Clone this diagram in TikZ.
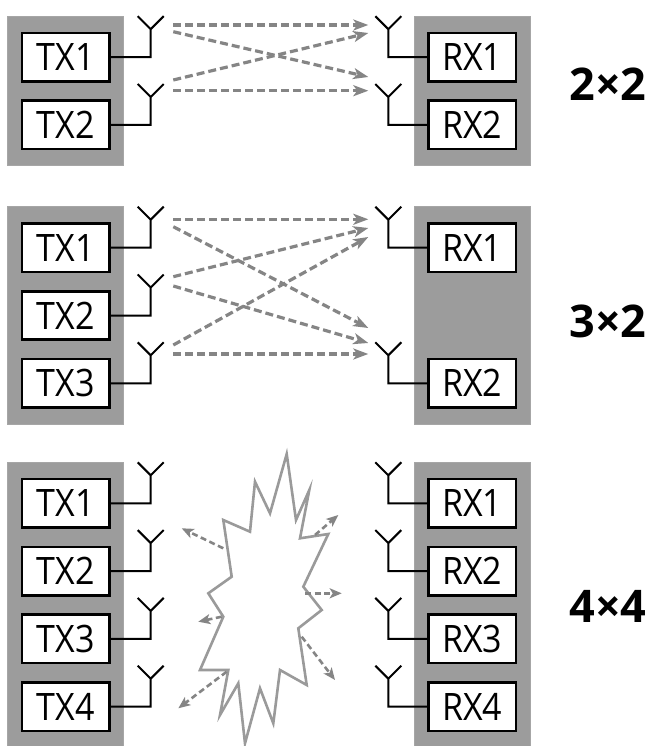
\documentclass[tikz,border=0pt]{standalone}
\usepackage{fontspec}
\newfontfamily\boxfont{Open Sans}[FakeStretch=0.9]
\newfontfamily\labelfont{Open Sans}
\usetikzlibrary{arrows.meta,positioning,fit,calc}
\pgfdeclarelayer{background}
\pgfsetlayers{background,main}
\definecolor{bodygray}{HTML}{9C9C9C}
\definecolor{raygray}{HTML}{858585}
\definecolor{burstgray}{HTML}{9A9A9A}

\begin{document}
\begin{tikzpicture}[x=1pt,y=1pt,node distance=67.8pt,on grid,
  radio/.style={draw,line width=2.6pt,fill=white,minimum width=87.4pt,minimum height=48.4pt,
    inner sep=0pt,font=\boxfont\fontsize{37.8pt}{40pt}\selectfont},
  body/.style={draw=gray!70,line width=1pt,fill=bodygray,inner xsep=13pt,inner ysep=15.5pt},
  wire/.style={line width=2pt},
  ray/.style={draw=raygray,line width=3.2pt,dash pattern=on 8pt off 4pt,
    -{Stealth[length=15pt,width=11pt,inset=4pt]}},
  spark/.style={draw=raygray,line width=2.6pt,dash pattern=on 6pt off 3.5pt,
    -{Stealth[length=12pt,width=10pt,inset=3pt]}},
  burst/.style={draw=burstgray,line width=2.6pt,fill=white,line join=miter},
  lbl/.style={font=\labelfont\bfseries\fontsize{45pt}{48pt}\selectfont}]
  \useasboundingbox (0,0) rectangle (653,-746);

  % 2x2
  \node[radio] (A-tx1) at (65.7,-57.2) {TX1};
  \node[radio] (A-tx2) [below=of A-tx1] {TX2};
  \node[radio] (A-rx1) at (472.3,-57.2) {RX1};
  \node[radio] (A-rx2) [below=of A-rx1] {RX2};
  \node[lbl] (A-lbl) at (608,-84) {2×2};

  % 3x2
  \node[radio] (B-tx1) at (65.7,-247.7) {TX1};
  \node[radio] (B-tx2) [below=of B-tx1] {TX2};
  \node[radio] (B-tx3) [below=of B-tx2] {TX3};
  \node[radio] (B-rx1) at (472.3,-247.7) {RX1};
  \node[radio] (B-rx2) [below=135.6pt of B-rx1] {RX2};
  \node[lbl] (B-lbl) at (608,-321.7) {3×2};

  % 4x4
  \node[radio] (C-tx1) at (65.7,-503.3) {TX1};
  \node[radio] (C-tx2) [below=of C-tx1] {TX2};
  \node[radio] (C-tx3) [below=of C-tx2] {TX3};
  \node[radio] (C-tx4) [below=of C-tx3] {TX4};
  \node[radio] (C-rx1) at (472.3,-503.3) {RX1};
  \node[radio] (C-rx2) [below=of C-rx1] {RX2};
  \node[radio] (C-rx3) [below=of C-rx2] {RX3};
  \node[radio] (C-rx4) [below=of C-rx3] {RX4};
  \node[lbl] (C-lbl) at (608,-606) {4×4};

  \begin{pgfonlayer}{background}
    \node[body,fit=(A-tx1)(A-tx2)] (A-tx) {};
    \node[body,fit=(A-rx1)(A-rx2)] (A-rx) {};
    \node[body,fit=(B-tx1)(B-tx3)] (B-tx) {};
    \node[body,fit=(B-rx1)(B-rx2)] (B-rx) {};
    \node[body,fit=(C-tx1)(C-tx4)] (C-tx) {};
    \node[body,fit=(C-rx1)(C-rx4)] (C-rx) {};
  \end{pgfonlayer}

  % antennas
  \foreach \s/\n in {A/2,B/3,C/4}
    \foreach \i in {1,...,\n}{
      \coordinate (\s-ta\i) at ($(\s-tx\i)+(85,28)$);
      \draw[wire] (\s-tx\i.east) -| (\s-ta\i) -- +(-13,13) (\s-ta\i) -- +(13,13);
    }
  \foreach \s/\i in {A/1,A/2,B/1,B/2,C/1,C/2,C/3,C/4}{
    \coordinate (\s-ra\i) at ($(\s-rx\i)+(-84,28)$);
    \draw[wire] (\s-rx\i.west) -| (\s-ra\i) -- +(-13,13) (\s-ra\i) -- +(13,13);
  }

  % radio paths
  \foreach \a/\ya/\b/\yb in {1/4.2/1/4.2, 1/-2.5/2/20, 2/17/1/-3.8, 2/6.3/2/6.3}
    \draw[ray] ($(A-ta\a)+(22.6,\ya)$) -- ($(A-ra\b)+(-20,\yb)$);
  \foreach \a/\ya/\b/\yb in {1/0.4/1/0.4, 1/-7/2/27.3, 2/10.8/1/-8.3,
                             2/1.5/2/12.3, 3/10.3/1/-17.3, 3/1.3/2/1.3}
    \draw[ray] ($(B-ta\a)+(22.6,\ya)$) -- ($(B-ra\b)+(-20,\yb)$);

  % interference
  \draw[burst] (286.7,-454) -- (296,-520) -- (309.3,-490) -- (300,-538.3)
    -- (328.3,-534) -- (303.3,-586.7) -- (321.7,-610) -- (298.3,-628.3)
    -- (306.7,-685) -- (280,-670) -- (273.3,-723.3) -- (260,-688.3)
    -- (245,-743.3) -- (238.3,-683.3) -- (220,-715) -- (228.3,-670)
    -- (200,-670) -- (223.3,-616.7) -- (208.3,-593.3) -- (231.7,-576.7)
    -- (223.3,-520) -- (250,-531.7) -- (255,-481.7) -- (270,-513.3) -- cycle;
  \foreach \p/\q in {{223.3,-548.3}/{181.7,-528.3}, {221.7,-616.7}/{198.3,-621.7},
                     {226.7,-671.7}/{178.3,-708.3}, {315,-535}/{338.3,-515},
                     {305,-593.3}/{341.7,-593.3}, {301.7,-636.7}/{335,-680}}
    \draw[spark] (\p) -- (\q);
\end{tikzpicture}
\end{document}
